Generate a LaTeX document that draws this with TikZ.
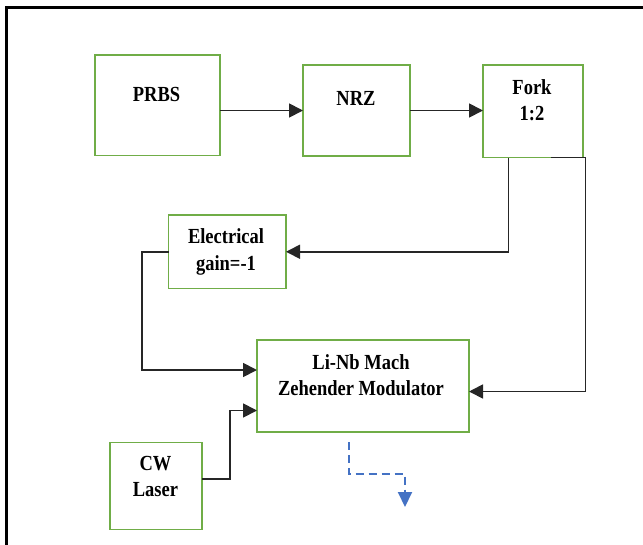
\documentclass[tikz,border=0pt]{standalone}
\usepackage{fontspec}
\setmainfont[FakeStretch=0.86]{Liberation Serif}
\usetikzlibrary{arrows.meta,calc}

\definecolor{boxgreen}{HTML}{70AD47}
\definecolor{sigblue}{HTML}{4472C4}

\tikzset{
  block/.style={draw=boxgreen, line width=1.8pt, rectangle, inner sep=0pt,
                outer sep=0pt, anchor=north west, fill=white},
  % anchor=base sits on the baseline of the last line
  lbl/.style={font=\bfseries\fontsize{21.5}{26.5}\selectfont, align=center,
              anchor=base, inner sep=0pt},
  link/.style={draw=black!85, line width=1.8pt,
               -{Triangle[length=14pt,width=14pt]}},
  optout/.style={draw=sigblue, line width=2pt, dash pattern=on 8pt off 5pt,
                 -{Triangle[length=15pt,width=14pt]}}
}

\begin{document}
\begin{tikzpicture}[x=1pt, y=-1pt]
  \useasboundingbox (0,0) rectangle (643,544);

  % outer frame (left and top edges)
  \draw[line width=2.5pt, line cap=rect] (643,7.5) -- (6.5,7.5) -- (6.5,544);

  % blocks
  \node[block, minimum width=125pt, minimum height=100.5pt] (prbs) at (95,55) {};
  \node[block, minimum width=107pt, minimum height=91pt]    (nrz)  at (303,65) {};
  \node[block, minimum width=100pt, minimum height=92.5pt]  (fork) at (483,65) {};
  \node[block, minimum width=117.5pt, minimum height=73.5pt] (gain) at (168.5,215) {};
  \node[block, minimum width=212pt, minimum height=92pt]    (mzm)  at (257,340) {};
  \node[block, minimum width=92pt, minimum height=87pt]     (cw)   at (110,442.5) {};

  % block labels
  \node[lbl] (prbsT) at (156.5,101) {PRBS};
  \node[lbl] (nrzT)  at (356,105)   {NRZ};
  \node[lbl] (forkT) at (532,120.5) {Fork\\1:2};
  \node[lbl] (gainT) at (226,270)   {Electrical\\gain=-1};
  \node[lbl] (mzmT)  at (361,395.5) {Li-Nb Mach\\Zehender Modulator};
  \node[lbl] (cwT)   at (155.5,496.5) {CW\\Laser};

  % signal chain
  \draw[link] (prbs.east |- nrz.west) -- (nrz.west);
  \draw[link] (nrz.east) -- (fork.west |- nrz.east);

  % fork outputs
  \draw[link] ($(fork.south west)+(25.5,0)$) |- (gain.east);
  \coordinate (forkcorner) at ($(fork.south west)+(102.5,0)$);
  \draw[link] ($(fork.south west)+(68,0)$) -- (forkcorner)
              |- ($(mzm.east)+(0,5.5)$);

  % inverted drive into the modulator
  \draw[link] (gain.west) -- ++(-26.5,0) |- ($(mzm.west)+(0,-16)$);

  % optical carrier into the modulator
  \draw[link] ($(cw.east)+(0,-7)$) -- ++(28,0) |- ($(mzm.west)+(0,24.5)$);

  % modulated optical output
  \coordinate (outA) at ($(mzm.south west)+(91.5,10)$);
  \coordinate (outB) at (405,507);
  \draw[optout] (outA) |- (outB |- 0,474) -- (outB);
\end{tikzpicture}
\end{document}
